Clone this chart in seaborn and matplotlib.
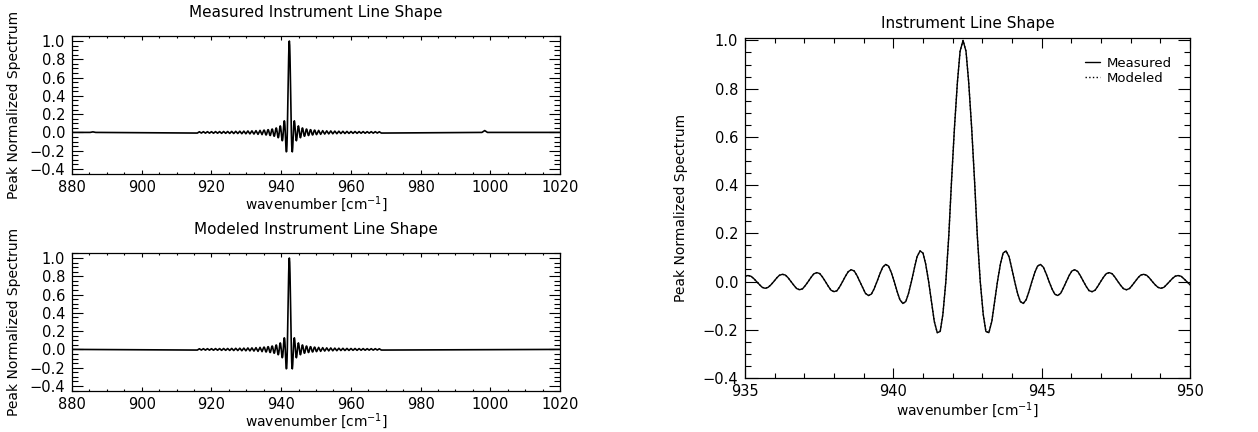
#!/usr/bin/env python3
"""Instrument line shape figure: measured vs modeled ILS."""

import numpy as np
import pandas as pd
import matplotlib.pyplot as plt
import seaborn as sns
from matplotlib.ticker import MultipleLocator

# ILS core, 935-950 cm-1
CORE_WN = [
    934.91, 935.00, 935.10, 935.20, 935.29,
    935.39, 935.49, 935.58, 935.68, 935.78, 935.87,
    935.97, 936.07, 936.16, 936.26, 936.36, 936.45,
    936.55, 936.65, 936.74, 936.84, 936.94, 937.03,
    937.13, 937.23, 937.32, 937.42, 937.52, 937.61,
    937.71, 937.81, 937.90, 938.00, 938.10, 938.19,
    938.29, 938.39, 938.48, 938.58, 938.68, 938.77,
    938.87, 938.97, 939.06, 939.16, 939.26, 939.35,
    939.45, 939.55, 939.64, 939.74, 939.84, 939.93,
    940.03, 940.13, 940.22, 940.32, 940.42, 940.51,
    940.61, 940.71, 940.80, 940.90, 941.00, 941.09,
    941.19, 941.29, 941.38, 941.48, 941.58, 941.67,
    941.77, 941.87, 941.96, 942.06, 942.16, 942.25,
    942.35, 942.45, 942.54, 942.64, 942.74, 942.83,
    942.93, 943.03, 943.12, 943.22, 943.32, 943.41,
    943.51, 943.61, 943.70, 943.80, 943.90, 943.99,
    944.09, 944.19, 944.28, 944.38, 944.48, 944.57,
    944.67, 944.77, 944.86, 944.96, 945.06, 945.15,
    945.25, 945.35, 945.44, 945.54, 945.64, 945.73,
    945.83, 945.93, 946.02, 946.12, 946.22, 946.31,
    946.41, 946.51, 946.60, 946.70, 946.80, 946.89,
    946.99, 947.09, 947.18, 947.28, 947.38, 947.47,
    947.57, 947.67, 947.76, 947.86, 947.96, 948.05,
    948.15, 948.25, 948.34, 948.44, 948.54, 948.63,
    948.73, 948.83, 948.92, 949.02, 949.12, 949.21,
    949.31, 949.41, 949.50, 949.60, 949.70, 949.79,
    949.89, 949.99, 950.08,
]
CORE_ILS = [
    0.012, 0.022, 0.025, 0.022, 0.013,
    0.0, -0.013, -0.024, -0.028, -0.024, -0.014,
    0.0, 0.015, 0.026, 0.030, 0.027, 0.016,
    0.0, -0.016, -0.029, -0.034, -0.030, -0.017,
    0.0, 0.018, 0.032, 0.037, 0.033, 0.019,
    0.0, -0.020, -0.036, -0.042, -0.038, -0.022,
    0.0, 0.023, 0.041, 0.049, 0.044, 0.026,
    0.0, -0.027, -0.049, -0.058, -0.052, -0.031,
    0.0, 0.033, 0.059, 0.071, 0.064, 0.038,
    0.0, -0.042, -0.075, -0.091, -0.083, -0.050,
    0.0, 0.056, 0.103, 0.127, 0.118, 0.073,
    0.0, -0.087, -0.165, -0.212, -0.207, -0.136,
    0.0, 0.191, 0.413, 0.637, 0.827, 0.955,
    1.000, 0.955, 0.827, 0.637, 0.413, 0.191,
    0.0, -0.136, -0.207, -0.212, -0.165, -0.087,
    0.0, 0.073, 0.118, 0.127, 0.103, 0.056,
    0.0, -0.050, -0.083, -0.091, -0.075, -0.042,
    0.0, 0.038, 0.064, 0.071, 0.059, 0.033,
    0.0, -0.031, -0.052, -0.058, -0.049, -0.027,
    0.0, 0.026, 0.044, 0.049, 0.041, 0.023,
    0.0, -0.022, -0.038, -0.042, -0.036, -0.020,
    0.0, 0.019, 0.033, 0.037, 0.032, 0.018,
    0.0, -0.017, -0.030, -0.034, -0.029, -0.016,
    0.0, 0.016, 0.027, 0.030, 0.026, 0.015,
    0.0, -0.014, -0.024, -0.028, -0.024, -0.013,
    0.0, 0.013, 0.022, 0.025, 0.022, 0.012,
    0.0, -0.012, -0.021,
]

# sidelobe extrema outside the zoom window (only seen in the wide panels)
WING_LEFT_WN = [
    915.96, 916.54, 917.12, 917.70, 918.28, 918.86, 919.44, 920.02,
    920.60, 921.18, 921.76, 922.34, 922.92, 923.50, 924.08, 924.66,
    925.24, 925.82, 926.40, 926.98, 927.56, 928.14, 928.72, 929.30,
    929.88, 930.46, 931.04, 931.62, 932.20, 932.78, 933.36, 933.94,
    934.52,
]
WING_LEFT_ILS = [
    -0.007, 0.007, -0.007, 0.008, -0.008, 0.008, -0.008, 0.008,
    -0.009, 0.009, -0.009, 0.009, -0.010, 0.010, -0.010, 0.010,
    -0.011, 0.011, -0.012, 0.012, -0.012, 0.013, -0.014, 0.014,
    -0.015, 0.016, -0.016, 0.017, -0.018, 0.019, -0.021, 0.022,
    -0.024,
]
WING_RIGHT_WN = [
    950.18, 950.76, 951.34, 951.92, 952.50, 953.08, 953.66, 954.24,
    954.82, 955.40, 955.98, 956.56, 957.14, 957.72, 958.30, 958.88,
    959.46, 960.04, 960.62, 961.20, 961.78, 962.36, 962.94, 963.52,
    964.10, 964.68, 965.26, 965.84, 966.42, 967.00, 967.58, 968.16,
    968.74,
]
WING_RIGHT_ILS = [
    -0.024, 0.022, -0.021, 0.019, -0.018, 0.017, -0.016, 0.016,
    -0.015, 0.014, -0.014, 0.013, -0.012, 0.012, -0.012, 0.011,
    -0.011, 0.010, -0.010, 0.010, -0.010, 0.009, -0.009, 0.009,
    -0.009, 0.008, -0.008, 0.008, -0.008, 0.008, -0.007, 0.007,
    -0.007,
]

# flat baseline at the ends of the wide window
BASE_WN = [880.0, 1020.0]
BASE_ILS = [0.0, 0.0]

# small features that only show up in the measured spectrum
MEAS_BUMP_WN = [885.2, 886.0, 886.8, 997.6, 998.4, 999.2]
MEAS_BUMP_ILS = [0.0, 0.006, 0.0, 0.0, 0.020, 0.0]

FIG_W, FIG_H = 1258, 432
YLABEL = "Peak Normalized Spectrum"
XLABEL = r"wavenumber [cm$^{-1}$]"


def wide_frame(with_bumps=False):
    wn = BASE_WN + WING_LEFT_WN + CORE_WN + WING_RIGHT_WN
    ils = BASE_ILS + WING_LEFT_ILS + CORE_ILS + WING_RIGHT_ILS
    if with_bumps:
        wn = wn + MEAS_BUMP_WN
        ils = ils + MEAS_BUMP_ILS
    df = pd.DataFrame({"wn": wn, "ils": ils})
    return df.sort_values("wn").reset_index(drop=True)


def style_axis(ax, xmajor, xminor, ymajor, yminor, xlen, ylen):
    ax.xaxis.set_major_locator(MultipleLocator(xmajor))
    ax.xaxis.set_minor_locator(MultipleLocator(xminor))
    ax.yaxis.set_major_locator(MultipleLocator(ymajor))
    ax.yaxis.set_minor_locator(MultipleLocator(yminor))
    ax.tick_params(axis="both", which="both", direction="in",
                   top=True, right=True, width=0.8, labelsize=10.5, pad=5,
                   color="black", labelcolor="black")
    ax.tick_params(axis="x", which="both", pad=4)
    ax.tick_params(axis="x", which="major", length=xlen)
    ax.tick_params(axis="x", which="minor", length=xlen / 2)
    ax.tick_params(axis="y", which="major", length=ylen)
    ax.tick_params(axis="y", which="minor", length=ylen / 2)
    for sp in ax.spines.values():
        sp.set_visible(True)
        sp.set_linewidth(0.9)
        sp.set_color("black")


def main():
    sns.set_theme(style="ticks", context="paper")
    plt.rcParams["font.family"] = ["DejaVu Sans"]
    plt.rcParams["axes.unicode_minus"] = True
    plt.rcParams["text.color"] = "black"
    plt.rcParams["axes.labelcolor"] = "black"

    fig = plt.figure(figsize=(FIG_W / 100, FIG_H / 100), dpi=100)

    def px_axes(left, top, right, bottom):
        return fig.add_axes([left / FIG_W, 1 - bottom / FIG_H,
                             (right - left) / FIG_W, (bottom - top) / FIG_H])

    ax_meas = px_axes(72, 36, 560, 174)
    ax_mod = px_axes(72, 253, 560, 391)
    ax_zoom = px_axes(745, 38, 1190, 378)

    panels = [
        (ax_meas, wide_frame(with_bumps=True), "Measured Instrument Line Shape"),
        (ax_mod, wide_frame(), "Modeled Instrument Line Shape"),
    ]
    for ax, df, title in panels:
        sns.lineplot(data=df, x="wn", y="ils", ax=ax, color="black",
                     lw=1.2, estimator=None, sort=False)
        ax.set_xlim(880, 1020)
        ax.set_ylim(-0.455, 1.055)
        style_axis(ax, 20, 5, 0.2, 0.05, xlen=3, ylen=8)
        ax.set_title(title, fontsize=11, pad=14, color="black")
        ax.set_xlabel(XLABEL, fontsize=10, labelpad=0)
        ax.set_ylabel(YLABEL, fontsize=10, labelpad=6)

    # zoom on the line centre, measured and modeled overlaid
    core = pd.DataFrame({"wn": CORE_WN, "ils": CORE_ILS})
    sns.lineplot(data=core, x="wn", y="ils", ax=ax_zoom, color="black",
                 lw=1.0, estimator=None, sort=False, label="Measured")
    sns.lineplot(data=core, x="wn", y="ils", ax=ax_zoom, color="black",
                 lw=1.0, ls=":", estimator=None, sort=False, label="Modeled")
    ax_zoom.set_xlim(935, 950)
    ax_zoom.set_ylim(-0.4, 1.01)
    style_axis(ax_zoom, 5, 1, 0.2, 0.05, xlen=7, ylen=9)
    ax_zoom.set_title("Instrument Line Shape", fontsize=11, pad=7, color="black")
    ax_zoom.set_xlabel(XLABEL, fontsize=10, labelpad=1)
    ax_zoom.set_ylabel(YLABEL, fontsize=10, labelpad=10)
    leg = ax_zoom.legend(loc="upper right", bbox_to_anchor=(0.985, 0.98),
                         frameon=False, handlelength=1.1, handletextpad=0.5,
                         labelspacing=0.15, fontsize=9.5)
    for txt in leg.get_texts():
        txt.set_color("black")

    fig.savefig("out.png", dpi=100, facecolor="white")
    plt.close(fig)


if __name__ == "__main__":
    main()
